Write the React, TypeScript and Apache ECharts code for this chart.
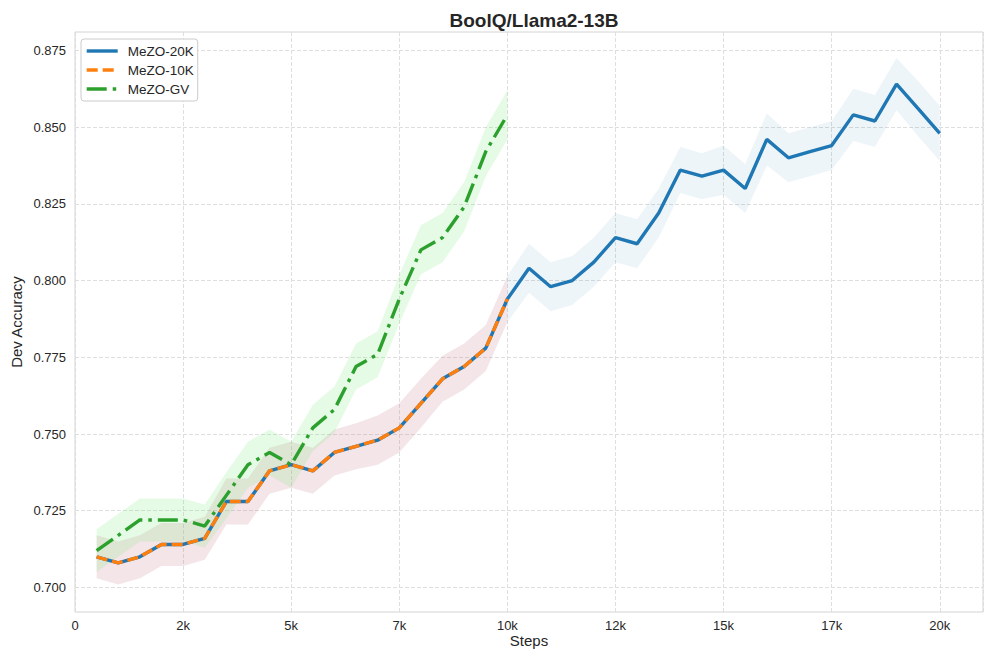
import React, { useEffect, useRef } from "react";
import * as echarts from "echarts";

const steps20k = [
  500, 1000, 1500, 2000, 2500, 3000, 3500, 4000, 4500, 5000,
  5500, 6000, 6500, 7000, 7500, 8000, 8500, 9000, 9500, 10000,
  10500, 11000, 11500, 12000, 12500, 13000, 13500, 14000, 14500, 15000,
  15500, 16000, 16500, 17000, 17500, 18000, 18500, 19000, 19500, 20000,
];
const steps10k = [
  500, 1000, 1500, 2000, 2500, 3000, 3500, 4000, 4500, 5000,
  5500, 6000, 6500, 7000, 7500, 8000, 8500, 9000, 9500, 10000,
];
const mezo20k = [
  0.710, 0.708, 0.710, 0.714, 0.714, 0.716, 0.728, 0.728, 0.738, 0.740,
  0.738, 0.744, 0.746, 0.748, 0.752, 0.760, 0.768, 0.772, 0.778, 0.794,
  0.804, 0.798, 0.800, 0.806, 0.814, 0.812, 0.822, 0.836, 0.834, 0.836,
  0.830, 0.846, 0.840, 0.842, 0.844, 0.854, 0.852, 0.864, 0.856, 0.848,
];
const mezo10k = [
  0.710, 0.708, 0.710, 0.714, 0.714, 0.716, 0.728, 0.728, 0.738, 0.740,
  0.738, 0.744, 0.746, 0.748, 0.752, 0.760, 0.768, 0.772, 0.778, 0.794,
];
const mezoGV = [
  0.712, 0.717, 0.722, 0.722, 0.722, 0.720, 0.730, 0.740, 0.744, 0.740,
  0.752, 0.758, 0.772, 0.776, 0.794, 0.810, 0.814, 0.824, 0.842, 0.854,
];
// shaded band half-widths (20K band is drawn from 10K steps onward)
const band20kSteps = [
  10000, 10500, 11000, 11500, 12000, 12500, 13000, 13500, 14000, 14500, 15000,
  15500, 16000, 16500, 17000, 17500, 18000, 18500, 19000, 19500, 20000,
];
const band20kMean = [
  0.794, 0.804, 0.798, 0.800, 0.806, 0.814, 0.812, 0.822, 0.836, 0.834, 0.836,
  0.830, 0.846, 0.840, 0.842, 0.844, 0.854, 0.852, 0.864, 0.856, 0.848,
];
const band20kStd = [
  0.0075, 0.008, 0.008, 0.008, 0.008, 0.008, 0.008, 0.008, 0.0075, 0.0075, 0.008,
  0.008, 0.0085, 0.008, 0.008, 0.008, 0.0085, 0.0085, 0.0085, 0.009, 0.009,
];
const band10kStd = [
  0.007, 0.007, 0.007, 0.007, 0.007, 0.007, 0.0075, 0.0075, 0.0075, 0.0075,
  0.0075, 0.0075, 0.0075, 0.008, 0.008, 0.008, 0.0075, 0.0075, 0.0075, 0.0075,
];
const bandGVStd = [
  0.007, 0.007, 0.007, 0.007, 0.007, 0.007, 0.0075, 0.0075, 0.0075, 0.0075,
  0.0075, 0.0075, 0.0075, 0.0075, 0.008, 0.008, 0.008, 0.008, 0.008, 0.008,
];

const xTickLabels = ["0", "2k", "5k", "7k", "10k", "12k", "15k", "17k", "20k"];
const yTickValues = [0.7, 0.725, 0.75, 0.775, 0.8, 0.825, 0.85, 0.875];
const yTickLabels = ["0.700", "0.725", "0.750", "0.775", "0.800", "0.825", "0.850", "0.875"];

const FONT = "'Liberation Sans', Arial, Helvetica, sans-serif";
const TEXT = "#262626";
const LW = 3.4;

function bandSeries(name: string, xs: number[], mean: number[], std: number[], color: string) {
  const rows = xs.map((x, i) => [x, mean[i] - std[i], mean[i] + std[i]]);
  return {
    name,
    type: "custom",
    data: rows,
    encode: { x: 0, y: [1, 2] },
    silent: true,
    z: 1,
    renderItem: (params: any, api: any) => {
      if (params.dataIndex !== 0) return null;
      const upper = rows.map((r) => api.coord([r[0], r[2]]));
      const lower = rows.map((r) => api.coord([r[0], r[1]])).reverse();
      return {
        type: "polygon",
        shape: { points: upper.concat(lower) },
        style: { fill: color, stroke: null },
        silent: true,
      };
    },
  };
}

export default function App() {
  const ref = useRef<HTMLDivElement>(null);
  useEffect(() => {
    if (!ref.current) return;
    const chart = echarts.init(ref.current, null, { renderer: "svg" });
    const line = (xs: number[], ys: number[]) => xs.map((x, i) => [x, ys[i]]);
    chart.setOption({
      animation: false,
      backgroundColor: "#ffffff",
      textStyle: { fontFamily: FONT },
      title: {
        text: "BoolQ/Llama2-13B",
        left: 529,
        top: 6,
        textAlign: "center",
        textStyle: { fontFamily: FONT, fontSize: 19, fontWeight: "bold", color: TEXT },
      },
      legend: {
        data: ["MeZO-20K", "MeZO-10K", "MeZO-GV"],
        orient: "vertical",
        left: 81,
        top: 39,
        padding: [5, 4, 5, 4],
        itemWidth: 31,
        itemHeight: 14,
        itemGap: 5,
        borderColor: "#cccccc",
        borderWidth: 1,
        borderRadius: 3,
        backgroundColor: "#ffffff",
        itemStyle: { opacity: 0 },
        lineStyle: { width: LW },
        textStyle: { fontFamily: FONT, fontSize: 13.5, color: TEXT, padding: [0, 0, 0, 5] },
      },
      grid: {
        left: 75,
        right: 13,
        top: 32,
        bottom: 52,
        outerBoundsMode: "none",
        containLabel: false,
        show: true,
        borderColor: "#d4d4d4",
        borderWidth: 1,
        backgroundColor: "transparent",
      },
      xAxis: {
        type: "value",
        min: 0,
        max: 21000,
        interval: 2500,
        name: "Steps",
        nameLocation: "middle",
        nameGap: 21,
        nameMoveOverlap: false,
        nameTextStyle: { fontFamily: FONT, fontSize: 15, color: TEXT },
        axisLine: { show: false },
        axisTick: { show: false },
        axisLabel: {
          fontFamily: FONT,
          fontSize: 13,
          color: TEXT,
          margin: 7,
          showMaxLabel: false,
          formatter: (v: number) => xTickLabels[Math.round(v / 2500)] ?? "",
        },
        splitLine: { show: true, lineStyle: { color: "#dedede", width: 1, type: [4, 2] } },
      },
      yAxis: {
        type: "value",
        min: 0.692,
        max: 0.881,
        name: "Dev Accuracy",
        nameLocation: "middle",
        nameGap: 51,
        nameMoveOverlap: false,
        nameTextStyle: { fontFamily: FONT, fontSize: 15, color: TEXT },
        axisLine: { show: false },
        axisTick: { show: false, customValues: yTickValues },
        axisLabel: {
          fontFamily: FONT,
          fontSize: 13,
          color: TEXT,
          margin: 9,
          customValues: yTickValues,
          formatter: (v: number) => {
            const i = yTickValues.findIndex((t) => Math.abs(t - v) < 1e-6);
            return i >= 0 ? yTickLabels[i] : "";
          },
        },
        splitLine: { show: true, lineStyle: { color: "#dedede", width: 1, type: [4, 2] } },
      },
      series: [
        bandSeries("b20", band20kSteps, band20kMean, band20kStd, "rgba(31,119,180,0.075)"),
        bandSeries("b10", steps10k, mezo10k, band10kStd, "rgba(190,110,130,0.18)"),
        bandSeries("bgv", steps10k, mezoGV, bandGVStd, "rgba(130,235,130,0.2)"),
        {
          name: "MeZO-20K",
          type: "line",
          data: line(steps20k, mezo20k),
          symbol: "none",
          color: "#1f77b4",
          lineStyle: { color: "#1f77b4", width: LW, type: "solid" },
          z: 3,
        },
        {
          name: "MeZO-10K",
          type: "line",
          data: line(steps10k, mezo10k),
          symbol: "none",
          color: "#ff7f0e",
          lineStyle: { color: "#ff7f0e", width: LW, type: [11, 5] },
          z: 4,
        },
        {
          name: "MeZO-GV",
          type: "line",
          data: line(steps10k, mezoGV),
          symbol: "none",
          color: "#2ca02c",
          lineStyle: { color: "#2ca02c", width: LW, type: [20, 6, 3.5, 6] },
          z: 5,
        },
      ],
    });
    return () => chart.dispose();
  }, []);
  return (
    <div
      ref={ref}
      style={{ position: "fixed", left: 0, top: 0, width: 996, height: 664 }}
    />
  );
}
